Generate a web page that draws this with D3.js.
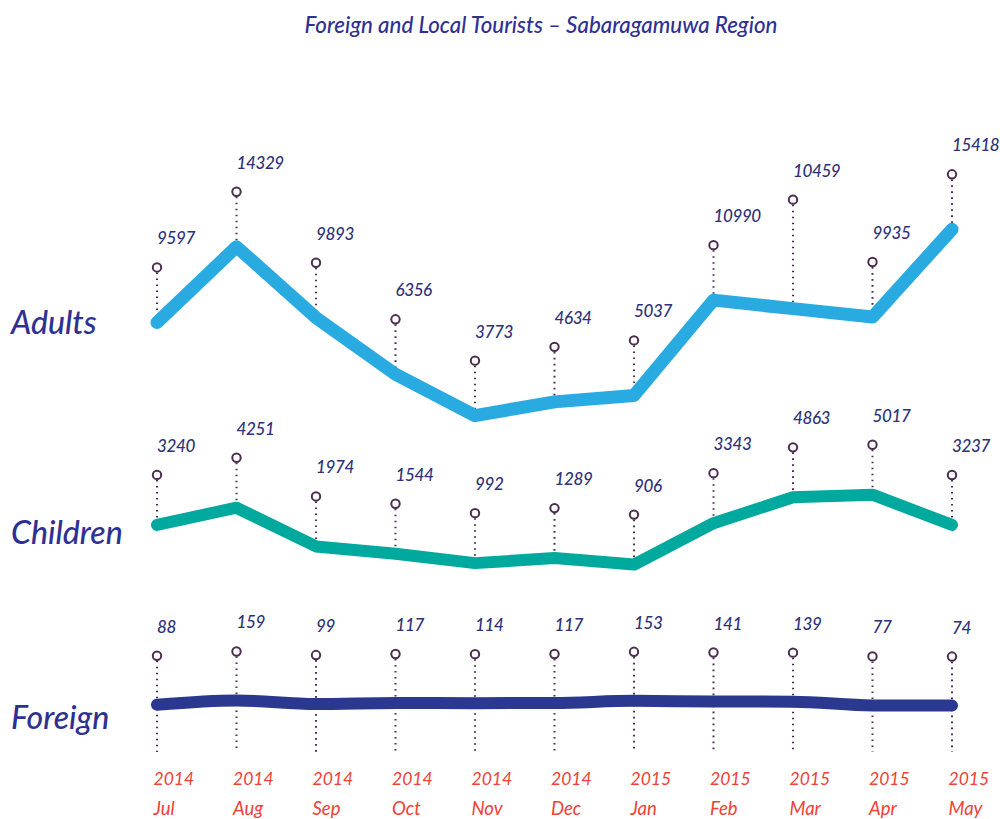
<!DOCTYPE html>
<html>
<head>
<meta charset="utf-8">
<script src="https://cdn.jsdelivr.net/npm/d3@7"></script>
<style>
  html, body { margin: 0; padding: 0; background: #fff; }
  svg { display: block; }
  text { font-family: Lato, "Open Sans", sans-serif; font-style: italic; }
</style>
</head>
<body>
<svg id="chart" width="1000" height="819"></svg>
<script>
// ---- data ----
const months = ["Jul","Aug","Sep","Oct","Nov","Dec","Jan","Feb","Mar","Apr","May"];
const years  = ["2014","2014","2014","2014","2014","2014","2015","2015","2015","2015","2015"];
const adults   = [9597,14329,9893,6356,3773,4634,5037,10990,10459,9935,15418];
const children = [3240,4251,1974,1544,992,1289,906,3343,4863,5017,3237];
const foreign  = [88,159,99,117,114,117,153,141,139,77,74];
const seriesNames = ["Adults","Children","Foreign"];
const title = "Foreign and Local Tourists \u2013 Sabaragamuwa Region";

// ---- layout ----
const svg = d3.select("#chart");
const keys = months.map((m, i) => years[i] + " " + m);
const x = d3.scalePoint().domain(keys).range([157, 952]);

const yA = d3.scaleLinear().domain([0, 16000]).range([476, 220]);
const yC = d3.scaleLinear().domain([0, 5000]).range([580, 495]);
const yF = d3.scaleLinear().domain([0, 200]).range([710, 698]);

const labelColor = "#2e3178";
const pinColor = "#4b2d4f";

const series = [
  { name: seriesNames[0], values: adults,   y: yA, color: "#29abe2", width: 13, curve: d3.curveLinear, pin: 55, extra: { "Mar": 54 }, labelY: 323, dotBottom: null },
  { name: seriesNames[1], values: children, y: yC, color: "#00a99d", width: 12, curve: d3.curveLinear, pin: 50, extra: {}, labelY: 533, dotBottom: null },
  { name: seriesNames[2], values: foreign,  y: yF, color: "#2b388f", width: 12, curve: d3.curveMonotoneX, pin: 49, extra: {}, labelY: 718, dotBottom: 752 }
];

// title
svg.append("text")
  .attr("x", 541).attr("y", 33)
  .attr("text-anchor", "middle")
  .attr("font-size", 22.3)
  .attr("font-weight", 500)
  .attr("fill", "#2e3192")
  .text(title);

series.forEach(s => {
  const g = svg.append("g");
  const pts = s.values.map((v, i) => ({ key: keys[i], month: months[i], v, px: x(keys[i]), py: s.y(v) }));

  // pins: dotted stems
  pts.forEach(p => {
    const cy = p.py - s.pin - (s.extra[p.month] || 0);
    p.cy = cy;
    g.append("line")
      .attr("x1", p.px).attr("x2", p.px)
      .attr("y1", cy + 5)
      .attr("y2", s.dotBottom != null ? s.dotBottom : p.py - 3)
      .attr("stroke", pinColor)
      .attr("stroke-width", 2)
      .attr("stroke-dasharray", "1.6,4.4");
  });

  // line
  const line = d3.line().x(d => d.px).y(d => d.py).curve(s.curve);
  g.append("path")
    .datum(pts)
    .attr("d", line)
    .attr("fill", "none")
    .attr("stroke", s.color)
    .attr("stroke-width", s.width)
    .attr("stroke-linecap", "round")
    .attr("stroke-linejoin", "round");

  // pin heads and value labels
  pts.forEach(p => {
    g.append("circle")
      .attr("cx", p.px).attr("cy", p.cy).attr("r", 4.2)
      .attr("fill", "#fff")
      .attr("stroke", pinColor)
      .attr("stroke-width", 2);
    g.append("text")
      .attr("x", p.px).attr("y", p.cy - 23)
      .attr("font-size", 17)
      .attr("letter-spacing", -0.4)
      .attr("font-weight", 500)
      .attr("fill", labelColor)
      .text(p.v);
  });

  // series name
  svg.append("text")
    .attr("x", 11).attr("y", s.labelY + 11)
    .attr("font-size", 32)
    .attr("font-weight", 500)
    .attr("fill", "#2e3192")
    .text(s.name);
});

// x axis (year + month)
const axis = d3.axisBottom(x).tickSize(0).tickPadding(0).tickFormat(k => k.split(" ")[0]);
const ax = svg.append("g").attr("transform", "translate(0,772)").call(axis);
ax.select(".domain").remove();
ax.selectAll(".tick text")
  .attr("text-anchor", "start")
  .attr("x", -4)
  .attr("dy", 0)
  .attr("y", 13)
  .attr("font-size", 17.5)
  .attr("font-family", "Lato, 'Open Sans', sans-serif")
  .attr("font-style", "italic")
  .attr("fill", "#ef4136")
  .each(function(k) {
    d3.select(this).append("tspan")
      .attr("x", -4).attr("dy", 30)
      .attr("font-size", 18.5)
      .text(k.split(" ")[1]);
  });
</script>
</body>
</html>
